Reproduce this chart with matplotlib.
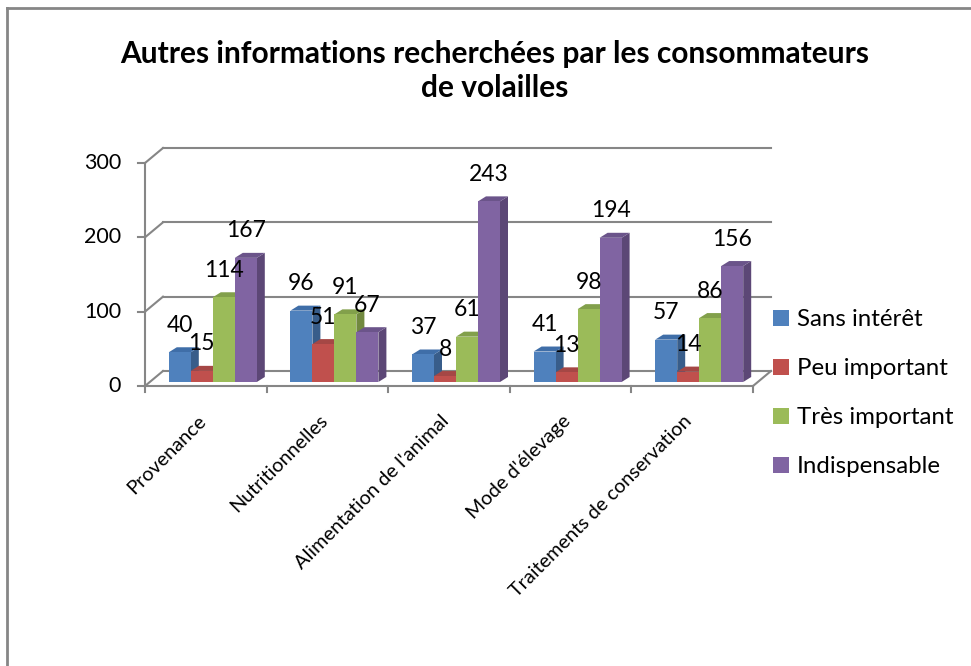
import matplotlib.pyplot as plt
from matplotlib.patches import Polygon, Rectangle, Patch
from matplotlib.lines import Line2D

categories = ['Provenance', 'Nutritionnelles', "Alimentation de l'animal",
              "Mode d'élevage", 'Traitements de conservation']
series = ['Sans intérêt', 'Peu important', 'Très important', 'Indispensable']
sans_interet = [40, 96, 37, 41, 57]
peu_important = [15, 51, 8, 13, 14]
tres_important = [114, 91, 61, 98, 86]
indispensable = [167, 67, 243, 194, 156]
yticks = [0, 100, 200, 300]
title = 'Autres informations recherchées par les consommateurs\nde volailles'

values = [sans_interet, peu_important, tres_important, indispensable]
front = ['#4F81BD', '#C0504D', '#9BBB59', '#8064A2']
side = ['#385D8A', '#8C3A38', '#71893F', '#5C4776']
top = ['#3F6EA8', '#A54745', '#82A04B', '#6B548A']
grid = '#868686'

plt.rcParams['font.family'] = ['Lato', 'DejaVu Sans']

W, H = 971, 666
fig = plt.figure(figsize=(W / 100, H / 100), dpi=100)
# front plane of the 3d box: x 145..753 px, y 386..163 px
ax = fig.add_axes([145 / W, 1 - 386 / H, 608 / W, 223 / H])
ax.set_xlim(0, len(categories))
ax.set_ylim(0, 300)
ax.axis('off')

px = len(categories) / 608   # data units per pixel
py = 300 / 223
ncat = len(categories)

# walls and floor
dx, dy = 18 * px, 15 * py
for t in yticks:
    ax.plot([dx, ncat + dx], [t + dy, t + dy], color=grid, lw=1.5, clip_on=False, zorder=1)
    ax.plot([0, dx], [t, t + dy], color=grid, lw=1.5, clip_on=False, zorder=1)
    ax.plot([-7 * px, 0], [t, t], color=grid, lw=1.5, clip_on=False, zorder=1)
    ax.text(-24 * px, t, str(t), ha='right', va='center', fontsize=15.5)
ax.plot([0, 0], [0, 300], color=grid, lw=1.5, clip_on=False, zorder=1)
ax.plot([0, ncat], [0, 0], color=grid, lw=1.5, clip_on=False, zorder=1)
ax.plot([ncat, ncat + dx], [0, dy], color=grid, lw=1.5, clip_on=False, zorder=1)
for i in range(ncat + 1):
    ax.plot([i, i], [0, -6 * py], color=grid, lw=1.5, clip_on=False, zorder=1)

# bars
bw = 22 * px
sdx, sdy = 8 * px, 5 * py
y0 = 4 * py
start = (121.6 - 4 * 22) / 2 * px + 7 * px
for j, vals in enumerate(values):
    for i, v in enumerate(vals):
        x0 = i + start + j * bw
        z = 3 + j
        ax.add_patch(Polygon([(x0 + bw, y0), (x0 + bw + sdx, y0 + sdy),
                              (x0 + bw + sdx, y0 + v + sdy), (x0 + bw, y0 + v)],
                             closed=True, facecolor=side[j], edgecolor='none',
                             clip_on=False, zorder=z))
        ax.add_patch(Polygon([(x0, y0 + v), (x0 + sdx, y0 + v + sdy),
                              (x0 + bw + sdx, y0 + v + sdy), (x0 + bw, y0 + v)],
                             closed=True, facecolor=top[j], edgecolor='none',
                             clip_on=False, zorder=z))
        ax.add_patch(Rectangle((x0, y0), bw, v, facecolor=front[j],
                               edgecolor='none', clip_on=False, zorder=z))
        ax.text(x0 + bw / 2, y0 + v + 27 * py, str(v), ha='center', va='center',
                fontsize=16.5, zorder=10)

# category labels
for i, c in enumerate(categories):
    xc = i + start + 2 * bw
    ax.text(xc - 10 * px, -32 * py, c, rotation=45, rotation_mode='anchor',
            ha='right', va='center', fontsize=14.3)

handles = [Patch(facecolor=front[j], edgecolor='none') for j in range(len(series))]
fig.legend(handles, series, loc='upper left', bbox_to_anchor=(773 / W, 1 - 309 / H),
           frameon=False, fontsize=17.3, handlelength=0.65, handleheight=0.65,
           handletextpad=0.35, labelspacing=1.17, borderaxespad=0, borderpad=0)

fig.text(495 / W, 1 - 71 / H, title, ha='center', va='center', fontsize=21.5,
         fontweight='bold', linespacing=1.25)

# chart border (right and bottom edges are outside the picture)
fig.add_artist(Line2D([7 / W, 7 / W], [0, 1 - 7.5 / H], color=grid, lw=2))
fig.add_artist(Line2D([7 / W, 1], [1 - 7.5 / H, 1 - 7.5 / H], color=grid, lw=2))

fig.savefig('out.png', dpi=100)
